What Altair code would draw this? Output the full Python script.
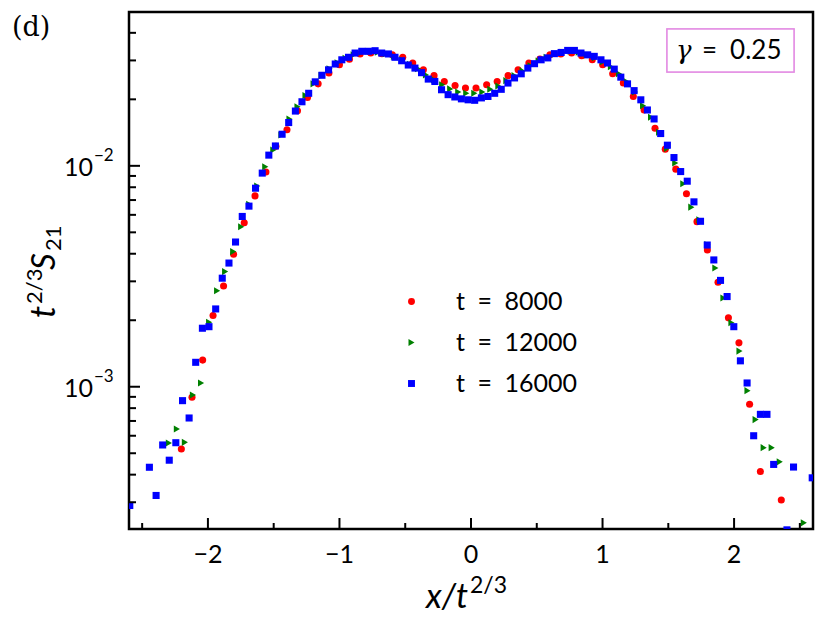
import altair as alt
import pandas as pd

FONT = "Lato"

# ---- data ----
series_names = ["t\u2002=\u20028000", "t\u2002=\u200212000", "t\u2002=\u200216000"]
series_colors = ["#ff0000", "#008000", "#0000ff"]
series_shapes = ["circle", "triangle-right", "square"]

red_x = [-2.202, -2.121, -2.040, -1.961, -1.881, -1.805, -1.724, -1.642, -1.559, -1.483,
         -1.399, -1.319, -1.243, -1.162, -1.080, -1.000, -0.924, -0.843, -0.762, -0.678,
         -0.598, -0.519, -0.443, -0.362, -0.281, -0.203, -0.121, -0.042, 0.038, 0.119,
         0.199, 0.282, 0.358, 0.440, 0.524, 0.600, 0.683, 0.765, 0.841, 0.922,
         1.001, 1.077, 1.158, 1.234, 1.316, 1.399, 1.477, 1.557, 1.638, 1.718,
         1.797, 1.878, 1.957, 2.037, 2.118, 2.200, 2.359]
red_y = [5.23e-4, 8.96e-4, 1.32e-3, 2.10e-3, 2.86e-3, 3.98e-3, 5.53e-3, 7.31e-3, 9.37e-3, 1.225e-2,
         1.456e-2, 1.775e-2, 2.04e-2, 2.35e-2, 2.63e-2, 2.87e-2, 3.04e-2, 3.21e-2, 3.24e-2, 3.22e-2,
         3.18e-2, 3.10e-2, 2.92e-2, 2.72e-2, 2.56e-2, 2.41e-2, 2.31e-2, 2.25e-2, 2.25e-2, 2.33e-2,
         2.41e-2, 2.56e-2, 2.72e-2, 2.92e-2, 3.04e-2, 3.18e-2, 3.21e-2, 3.24e-2, 3.15e-2, 3.02e-2,
         2.87e-2, 2.61e-2, 2.37e-2, 2.06e-2, 1.79e-2, 1.48e-2, 1.19e-2, 9.66e-3, 7.47e-3, 5.59e-3,
         4.16e-3, 2.97e-3, 2.05e-3, 1.58e-3, 8.33e-4, 4.13e-4, 3.07e-4]

green_x = [-2.297, -2.236, -2.175, -2.114, -2.052, -1.991, -1.930, -1.869, -1.808, -1.747,
           -1.686, -1.625, -1.564, -1.503, -1.441, -1.380, -1.319, -1.258, -1.197, -1.136,
           -1.075, -1.014, -0.953, -0.892, -0.830, -0.769, -0.708, -0.647, -0.586, -0.525,
           -0.464, -0.403, -0.342, -0.281, -0.219, -0.158, -0.097, -0.036, 0.025, 0.086,
           0.147, 0.208, 0.269, 0.331, 0.392, 0.453, 0.514, 0.575, 0.636, 0.697,
           0.758, 0.819, 0.880, 0.942, 1.003, 1.064, 1.125, 1.186, 1.247, 1.308,
           1.369, 1.430, 1.491, 1.553, 1.614, 1.675, 1.736, 1.797, 1.858, 1.919,
           1.980, 2.041, 2.102, 2.164, 2.225, 2.286, 2.347, 2.530]
green_y = [5.56e-4, 6.44e-4, 5.60e-4, 9.18e-4, 1.04e-3, 1.96e-3, 2.72e-3, 3.32e-3, 4.09e-3, 5.30e-3,
           6.70e-3, 8.10e-3, 9.90e-3, 1.18e-2, 1.38e-2, 1.63e-2, 1.85e-2, 2.08e-2, 2.35e-2, 2.56e-2,
           2.75e-2, 2.93e-2, 3.07e-2, 3.18e-2, 3.27e-2, 3.29e-2, 3.27e-2, 3.22e-2, 3.13e-2, 3.02e-2,
           2.88e-2, 2.75e-2, 2.58e-2, 2.45e-2, 2.33e-2, 2.23e-2, 2.16e-2, 2.13e-2, 2.13e-2, 2.16e-2,
           2.22e-2, 2.30e-2, 2.43e-2, 2.56e-2, 2.69e-2, 2.84e-2, 2.98e-2, 3.10e-2, 3.20e-2, 3.27e-2,
           3.30e-2, 3.27e-2, 3.18e-2, 3.09e-2, 2.96e-2, 2.81e-2, 2.61e-2, 2.40e-2, 2.16e-2, 1.87e-2,
           1.66e-2, 1.42e-2, 1.20e-2, 1.03e-2, 8.30e-3, 6.50e-3, 5.70e-3, 4.40e-3, 3.45e-3, 2.52e-3,
           1.95e-3, 1.45e-3, 9.60e-4, 7.10e-4, 5.30e-4, 5.30e-4, 4.57e-4, 2.42e-4]

blue_x = [-2.594, -2.445, -2.394, -2.344, -2.294, -2.244, -2.193, -2.143,
          -2.093, -2.042, -1.992, -1.941, -1.891, -1.840, -1.790, -1.739, -1.688, -1.638,
          -1.587, -1.537, -1.487, -1.436, -1.386, -1.335, -1.285, -1.234, -1.184, -1.133,
          -1.083, -1.032, -0.982, -0.931, -0.881, -0.830, -0.780, -0.729, -0.679, -0.628,
          -0.578, -0.527, -0.477, -0.426, -0.376, -0.325, -0.275, -0.224, -0.174, -0.123,
          -0.073, -0.022,
          0.028, 0.079, 0.129, 0.180, 0.230, 0.281, 0.331, 0.382, 0.432, 0.483,
          0.533, 0.584, 0.634, 0.685, 0.735, 0.786, 0.836, 0.887, 0.937, 0.988,
          1.038, 1.089, 1.139, 1.190, 1.240, 1.291, 1.341, 1.392, 1.442, 1.493,
          1.543, 1.594, 1.644, 1.695, 1.745, 1.796, 1.846, 1.897, 1.947, 1.998,
          2.048, 2.099, 2.149, 2.200, 2.250, 2.301,
          2.402, 2.452, 2.594]
blue_y = [2.90e-4, 4.32e-4, 3.22e-4, 5.45e-4, 4.65e-4, 5.58e-4, 8.65e-4, 7.22e-4,
          1.29e-3, 1.84e-3, 1.87e-3, 2.25e-3, 3.10e-3, 3.63e-3, 4.52e-3, 5.90e-3, 6.57e-3, 7.92e-3,
          9.27e-3, 1.118e-2, 1.23e-2, 1.39e-2, 1.57e-2, 1.77e-2, 1.95e-2, 2.13e-2, 2.40e-2, 2.57e-2,
          2.72e-2, 2.89e-2, 3.02e-2, 3.10e-2, 3.24e-2, 3.30e-2, 3.30e-2, 3.32e-2, 3.24e-2, 3.21e-2,
          3.10e-2, 2.99e-2, 2.86e-2, 2.77e-2, 2.64e-2, 2.47e-2, 2.41e-2, 2.21e-2, 2.10e-2, 2.05e-2,
          2.01e-2, 1.99e-2,
          1.98e-2, 2.03e-2, 2.06e-2, 2.13e-2, 2.22e-2, 2.37e-2, 2.50e-2, 2.61e-2, 2.77e-2, 2.90e-2,
          3.02e-2, 3.08e-2, 3.22e-2, 3.26e-2, 3.33e-2, 3.33e-2, 3.24e-2, 3.18e-2, 3.13e-2, 3.02e-2,
          2.92e-2, 2.74e-2, 2.52e-2, 2.35e-2, 2.19e-2, 1.99e-2, 1.79e-2, 1.63e-2, 1.40e-2, 1.24e-2,
          1.09e-2, 9.42e-3, 8.52e-3, 6.87e-3, 5.61e-3, 4.38e-3, 3.75e-3, 3.03e-3, 2.56e-3, 1.87e-3,
          1.31e-3, 1.04e-3, 6.0e-4, 7.5e-4, 7.5e-4, 4.45e-4,
          2.25e-4, 4.33e-4, 3.87e-4]

x_major = [-2, -1, 0, 1, 2]
x_major_labels = ["\u22122", "\u22121", "0", "1", "2"]
x_minor = [-2.5, -1.5, -0.5, 0.5, 1.5, 2.5]
y_major = [1e-3, 1e-2]
y_major_base = ["10", "10"]
y_major_exp = ["\u22123", "\u22122"]
y_minor = [3e-4, 4e-4, 5e-4, 6e-4, 7e-4, 8e-4, 9e-4,
           2e-3, 3e-3, 4e-3, 5e-3, 6e-3, 7e-3, 8e-3, 9e-3,
           2e-2, 3e-2, 4e-2]

panel_label = ["(d)"]
gamma_parts = ["\u03b3", "=\u20020.25"]
xtitle_main = ["x/t"]
xtitle_sup = ["2/3"]
ytitle_parts = ["t", "2/3", "S", "21"]

# ---- chart ----
W, H = 684, 517
xs = alt.Scale(domain=[-2.6, 2.6], nice=False, zero=False)
ys = alt.Scale(type="log", domain=[2.27e-4, 0.0497], nice=False)

frames = []
for name, xv, yv in [(series_names[0], red_x, red_y),
                     (series_names[1], green_x, green_y),
                     (series_names[2], blue_x, blue_y)]:
    frames.append(pd.DataFrame({"x": xv, "y": yv, "series": name}))
df = pd.concat(frames, ignore_index=True)

legend = alt.Legend(orient="none", legendX=270, legendY=277, symbolSize=48,
                    labelFont=FONT, labelFontSize=25, labelColor="black",
                    labelOffset=32, rowPadding=15, padding=0, symbolStrokeWidth=0)

points = alt.Chart(df).mark_point(filled=True, size=50, opacity=1, clip=True).encode(
    x=alt.X("x:Q", scale=xs, axis=None),
    y=alt.Y("y:Q", scale=ys, axis=None),
    color=alt.Color("series:N", title=None,
                    scale=alt.Scale(domain=series_names, range=series_colors), legend=legend),
    shape=alt.Shape("series:N", title=None,
                    scale=alt.Scale(domain=series_names, range=series_shapes), legend=legend),
)

def xrule(vals, length):
    return alt.Chart(pd.DataFrame({"x": vals})).mark_rule(color="black", strokeWidth=2).encode(
        x=alt.X("x:Q", scale=xs, axis=None), y=alt.value(H), y2=alt.value(H - length))

def yrule(vals, length):
    return alt.Chart(pd.DataFrame({"y": vals})).mark_rule(color="black", strokeWidth=2).encode(
        y=alt.Y("y:Q", scale=ys, axis=None), x=alt.value(0), x2=alt.value(length))

xlab = alt.Chart(pd.DataFrame({"x": x_major, "lab": x_major_labels})).mark_text(
    align="center", baseline="alphabetic", font=FONT, fontSize=25, color="black").encode(
    x=alt.X("x:Q", scale=xs, axis=None), y=alt.value(H + 34), text="lab:N")

ylab_df = pd.DataFrame({"y": y_major, "base": y_major_base, "exp": y_major_exp})
ylab_base = alt.Chart(ylab_df).mark_text(align="right", baseline="middle", font=FONT,
                                         fontSize=25, dy=2, color="black").encode(
    y=alt.Y("y:Q", scale=ys, axis=None), x=alt.value(-36), text="base:N")
ylab_exp = alt.Chart(ylab_df).mark_text(align="left", baseline="middle", font=FONT,
                                        fontSize=17, dy=-10, color="black").encode(
    y=alt.Y("y:Q", scale=ys, axis=None), x=alt.value(-35), text="exp:N")

def label(text, x, y, **kw):
    return alt.Chart(pd.DataFrame({"t": [text]})).mark_text(color="black", **kw).encode(
        x=alt.value(x), y=alt.value(y), text="t:N")

xt1 = label(xtitle_main[0], 339, 596, align="right", baseline="alphabetic",
            font=FONT, fontSize=34, fontStyle="italic")
xt2 = label(xtitle_sup[0], 341, 581, align="left", baseline="alphabetic",
            font=FONT, fontSize=23)

yt1 = label(ytitle_parts[0], -74, 306, align="left", baseline="alphabetic", angle=270,
            font=FONT, fontSize=34, fontStyle="italic")
yt2 = label(ytitle_parts[1], -87, 292, align="left", baseline="alphabetic", angle=270,
            font=FONT, fontSize=22)
yt3 = label(ytitle_parts[2], -74, 258, align="left", baseline="alphabetic", angle=270,
            font=FONT, fontSize=33, fontStyle="italic")
yt4 = label(ytitle_parts[3], -68, 239, align="left", baseline="alphabetic", angle=270,
            font=FONT, fontSize=22)

panel = label(panel_label[0], -117, 24, align="left", baseline="alphabetic",
              font="DejaVu Serif", fontSize=27)

gbox = alt.Chart(pd.DataFrame({"t": gamma_parts})).mark_rect(
    fill="white", stroke="#e38ee3", strokeWidth=1.5).encode(
    x=alt.value(538), x2=alt.value(665), y=alt.value(17), y2=alt.value(60))
gtext1 = label(gamma_parts[0], 547, 39, align="left", baseline="middle",
               font="DejaVu Serif", fontSize=26, fontStyle="italic")
gtext2 = label(gamma_parts[1], 573, 39, align="left", baseline="middle",
               font=FONT, fontSize=26)

chart = alt.layer(
    points,
    xrule(x_major, 11), xrule(x_minor, 6),
    yrule(y_major, 11), yrule(y_minor, 7),
    xlab, ylab_base, ylab_exp,
    xt1, xt2, yt1, yt2, yt3, yt4,
    panel, gbox, gtext1, gtext2,
).properties(
    width=W, height=H,
    padding={"left": 121, "top": 4, "right": 9, "bottom": 85},
    autosize=alt.AutoSizeParams(type="none"),
    background="white",
).configure_view(stroke="black", strokeWidth=2.5)

chart.save("out.html", embed_options={"renderer": "svg", "actions": False})
